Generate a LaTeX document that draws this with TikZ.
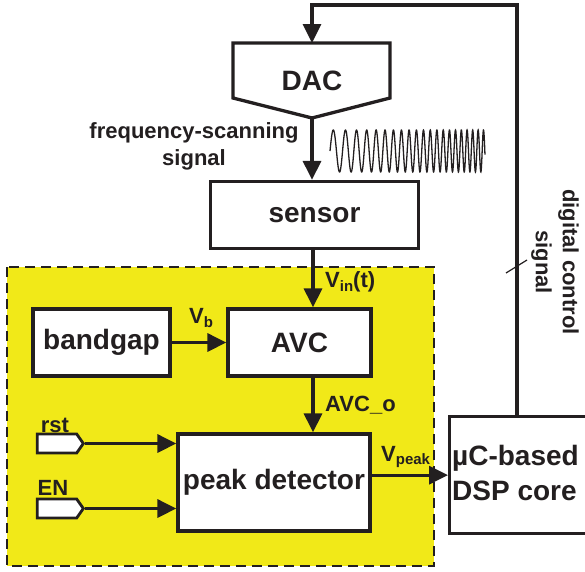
\documentclass[tikz,border=0pt]{standalone}
\usepackage{fontspec}
\setmainfont{Liberation Sans}
\usetikzlibrary{arrows.meta,shapes.symbols}
\definecolor{ylw}{RGB}{241,233,24}
\definecolor{ink}{RGB}{35,31,32}
\begin{document}
\begin{tikzpicture}[x=1pt,y=-1pt,
  blk/.style={draw=ink,line width=3.3pt,fill=white,inner sep=0pt,font=\fontsize{28}{30}\selectfont\bfseries,text=ink},
  lbl/.style={font=\fontsize{22}{27}\selectfont\bfseries,inner sep=0pt,text=ink},
  wire/.style={draw=ink,line width=3.3pt,-{Triangle[length=19pt,width=18pt]}},
  port/.style={draw=ink,line width=2.8pt,fill=white,shape=signal,signal to=east,signal pointer angle=110,minimum width=46pt,minimum height=19pt,inner sep=0pt},
]
\useasboundingbox (0,0) rectangle (585,571);
% yellow region
\draw[fill=ylw,draw=ink,line width=2.5pt,dash pattern=on 10pt off 6pt] (7,267) rectangle (434,566);
% DAC
\draw[draw=ink,line width=3.3pt,fill=white,line join=miter] (233,43) -- (390,43) -- (390,98) -- (312,118) -- (233,98) -- cycle;
\node[lbl,font=\fontsize{28}{30}\selectfont\bfseries] (dac) at (312,81) {DAC};
\coordinate (dacin) at (312,43);
\coordinate (dacout) at (312,118);
\coordinate (col) at (313,0);
\coordinate (fb) at (517,5);
% blocks
\node[blk,minimum width=208pt,minimum height=67pt] (sensor) at (314.5,215) {sensor};
\node[blk,minimum width=137pt,minimum height=67pt] (bandgap) at (101.5,342.5) {bandgap};
\node[blk,minimum width=143pt,minimum height=67pt] (avc) at (299.5,342.5) {AVC};
\node[blk,minimum width=192pt,minimum height=97pt] (peak) at (274,482.5) {peak detector};
\node[blk,minimum width=162pt,minimum height=117pt,anchor=north west] (dsp) at (448,415) {};
\node[lbl,font=\fontsize{28}{35}\selectfont\bfseries,align=left,anchor=west] (dsptxt) at (452,473) {µC-based\\DSP core};
% ports
\node[port] (rst) at (57,443.5) {};
\node[port] (en) at (57,508.5) {};
\node[lbl] (rstl) at (55,425) {rst};
\node[lbl] (enl) at (53,488) {EN};
% connectors
\draw[wire] (dsp.north -| fb) -- (fb) -- (fb -| dacin) -- (dacin);
\draw[wire] (dacout) -- (sensor.north -| dacout);
\draw[wire] (sensor.south -| col) -- (avc.north -| col);
\draw[wire] (bandgap.east) -- (avc.west);
\draw[wire] (avc.south -| col) -- (peak.north -| col);
\draw[wire] (rst.east) -- (peak.west |- rst.east);
\draw[wire] (en.east) -- (peak.west |- en.east);
\draw[wire] (peak.east |- dsp.west) -- (dsp.west);
% labels
\node[lbl,align=center] (fsl) at (194,146.5) {frequency-scanning\\signal};
\node[lbl,anchor=west] (vin) at (325,282) {V\raisebox{-0.3ex}{\fontsize{15}{15}\selectfont in}(t)};
\node[lbl] (vb) at (201,318) {V\raisebox{-0.3ex}{\fontsize{15}{15}\selectfont b}};
\node[lbl,anchor=west] (avco) at (325,405) {AVC\_o};
\node[lbl,anchor=west] (vpk) at (381,457) {V\raisebox{-0.3ex}{\fontsize{15}{15}\selectfont peak}};
\node[lbl,align=center,rotate=-90] (dcs) at (555,262) {digital control\\signal};
\coordinate (tka) at (506,273);
\coordinate (tkb) at (527,260);
\draw[draw=ink,line width=1.2pt] (tka) -- (tkb);
% chirp
\draw[draw=ink,line width=1.3pt] plot[domain=0:1,samples=900] ({330+155*\x},{151-21*sin(360*(11.625*\x+8.91*\x*\x))});
\end{tikzpicture}
\end{document}
